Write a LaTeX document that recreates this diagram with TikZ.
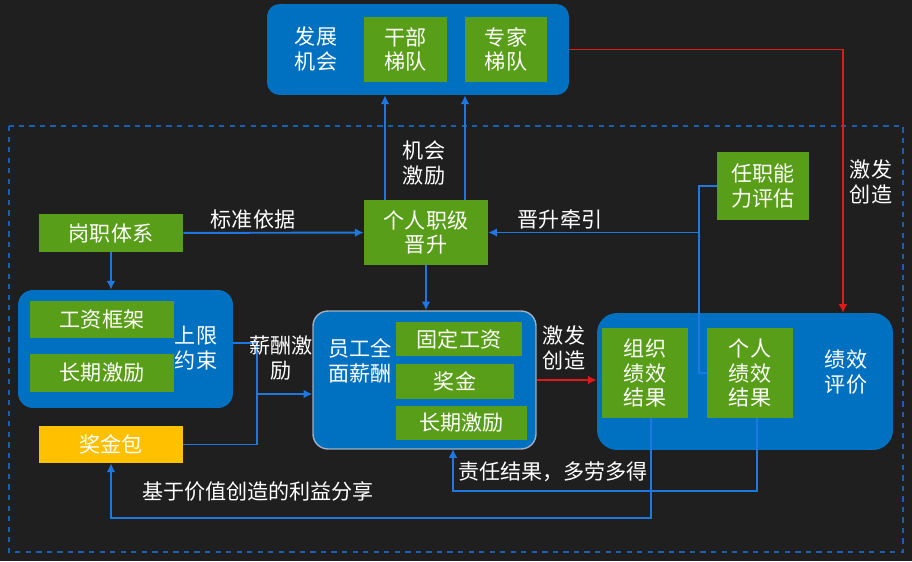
\documentclass[tikz,border=0pt]{standalone}
\usepackage{fontspec}
\setmainfont{Noto Sans CJK SC}
\usetikzlibrary{arrows.meta,positioning}
\definecolor{bgdark}{RGB}{31,31,31}
\definecolor{boxblue}{RGB}{0,112,192}
\definecolor{boxgreen}{RGB}{88,158,24}
\definecolor{lineblue}{RGB}{30,120,225}
\definecolor{linered}{RGB}{225,25,25}
\definecolor{jjyellow}{RGB}{255,192,0}
\definecolor{edgegray}{RGB}{160,175,195}

\begin{document}
\begin{tikzpicture}[x=0.02cm,y=-0.02cm,>={Latex[length=5pt,width=5pt]},font=\fontsize{12}{14}\selectfont]
  \tikzstyle{gbox}=[fill=boxgreen,text=white,align=center,inner sep=1pt]
  \tikzstyle{bbox}=[fill=boxblue,rounded corners=0.3cm,inner sep=0pt]
  \tikzstyle{lbl}=[text=white,align=center,inner sep=1pt]
  \tikzstyle{conn}=[draw=lineblue,line width=1.1pt]
  \tikzstyle{hot}=[draw=linered,line width=1.1pt]
  \useasboundingbox[fill=bgdark] (0,0) rectangle (912,561);
  \draw[lineblue!80!black,dashed,line width=0.6pt] (9,126) rectangle (903,552);
  % top: development chances
  \node[bbox,rounded corners=0.25cm,minimum width=6.04cm,minimum height=1.82cm] (fazhan) at (418,49.5) {};
  \node[lbl] (fztxt) at (316,49) {发展\\机会};
  \node[gbox,minimum width=1.66cm,minimum height=1.3cm] (ganbu) at (405.5,49.5) {干部\\梯队};
  \node[gbox,minimum width=1.64cm,minimum height=1.3cm] (zhuanjia) at (506,49.5) {专家\\梯队};
  % middle row
  \node[gbox,minimum width=2.88cm,minimum height=0.76cm] (gangzhi) at (111,233) {岗职体系};
  \node[gbox,minimum width=2.48cm,minimum height=1.3cm] (zhiji) at (426,232.5) {个人职级\\晋升};
  \node[gbox,minimum width=1.84cm,minimum height=1.36cm] (renzhi) at (763,186) {任职能\\力评估};
  % left: upper limit
  \node[bbox,minimum width=4.3cm,minimum height=2.36cm] (shangxian) at (125.5,349) {};
  \node[gbox,minimum width=2.88cm,minimum height=0.74cm] (gongzi) at (102,319.5) {工资框架};
  \node[gbox,minimum width=2.88cm,minimum height=0.76cm] (changqiA) at (102,373) {长期激励};
  \node[lbl] (sxtxt) at (196,348) {上限\\约束};
  \node[fill=jjyellow,text=white,minimum width=2.88cm,minimum height=0.74cm] (jjbao) at (111,444.5) {奖金包};
  % centre: total pay
  \node[bbox,draw=edgegray,line width=0.8pt,minimum width=4.46cm,minimum height=2.76cm] (quanmian) at (424.5,380) {};
  \node[lbl] (qmtxt) at (360,361) {员工全\\面薪酬};
  \node[gbox,minimum width=2.52cm,minimum height=0.68cm] (guding) at (459,339) {固定工资};
  \node[gbox,minimum width=2.36cm,minimum height=0.7cm] (jiangjin) at (455,381.5) {奖金};
  \node[gbox,minimum width=2.62cm,minimum height=0.68cm] (changqiB) at (461.5,423) {长期激励};
  % right: performance
  \node[bbox,rounded corners=0.4cm,minimum width=5.92cm,minimum height=2.74cm] (jixiao) at (745,381.5) {};
  \node[gbox,minimum width=1.72cm,minimum height=1.8cm] (zuzhi) at (645,373) {组织\\绩效\\结果};
  \node[gbox,minimum width=1.72cm,minimum height=1.8cm] (geren) at (750,373) {个人\\绩效\\结果};
  \node[lbl] (jxtxt) at (846,372) {绩效\\评价};
  % connectors
  \coordinate (upA) at (385,200);
  \coordinate (upB) at (465,200);
  \coordinate (br) at (699,232.5);
  \coordinate (jxtop) at (843,313);
  \coordinate (hub) at (257,394);
  \coordinate (qmbot) at (453,449);
  \draw[conn,->] (upA) -- (upA |- fazhan.south);
  \draw[conn,->] (upB) -- (upB |- fazhan.south);
  \draw[conn,->] (gangzhi) -- (zhiji);
  \draw[conn,->] (gangzhi.south) -- (gangzhi.south |- shangxian.north);
  \draw[conn] (renzhi.west) -| (br) |- (geren.west);
  \draw[conn,->] (br) -- (zhiji.east);
  \draw[hot,->] (fazhan.east) -| (jxtop);
  \draw[conn,->] (zhiji.south) -- (zhiji.south |- quanmian.north);
  \draw[conn] ([yshift=0.12cm]shangxian.east) -| (hub);
  \draw[conn] (jjbao.east) -| (hub);
  \draw[conn,->] (hub) -- (hub -| quanmian.west);
  \draw[hot,->] (quanmian.east) -- (quanmian.east -| jixiao.west);
  \draw[conn,->] ([xshift=0.12cm]zuzhi.south) -- ++(0,100) -| (jjbao.south);
  \draw[conn,->] ([xshift=0.14cm]geren.south) -- ++(0,73) -| (qmbot);
  % labels
  \node[lbl] (l1) at (424,163) {机会\\激励};
  \node[lbl] (l2) at (253,220) {标准依据};
  \node[lbl] (l3) at (560,220) {晋升牵引};
  \node[lbl] (l4) at (871,182) {激发\\创造};
  \node[lbl] (l5) at (281,358) {薪酬激\\励};
  \node[lbl] (l6) at (564,348) {激发\\创造};
  \node[lbl] (l7) at (258,491) {基于价值创造的利益分享};
  \node[lbl] (l8) at (553,472) {责任结果，多劳多得};
\end{tikzpicture}
\end{document}
